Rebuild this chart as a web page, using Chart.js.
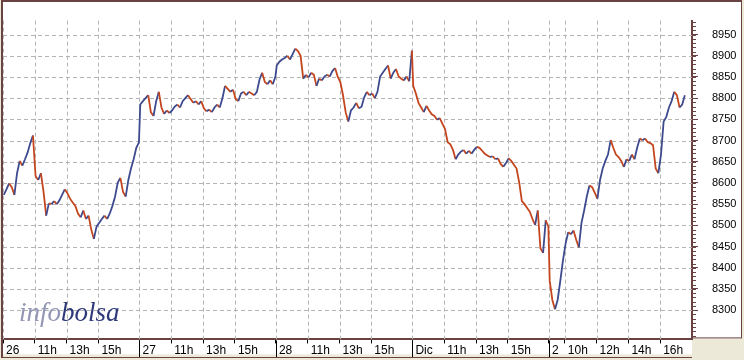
<!DOCTYPE html>
<html>
<head>
<meta charset="utf-8">
<script src="https://cdn.jsdelivr.net/npm/chart.js@4.4.1/dist/chart.umd.min.js"></script>
<style>
  html, body { margin: 0; padding: 0; background: #ece9d8; }
  #wrap { position: relative; width: 744px; height: 360px; }
  #logo { position: absolute; left: 19px; top: 299px; font: italic 27px "Liberation Serif", serif; line-height: 27px; }
  #logo .a { color: #9396b4; }
  #logo .b { color: #2e3a78; }
</style>
</head>
<body>
<div id="wrap">
  <canvas id="ibex" width="744" height="360"></canvas>
  <div id="logo"><span class="a">info</span><span class="b">bolsa</span></div>
</div>
<script>
// session = 9:00 - 17:35, 515 minutes; one close every 10 minutes
const sessionLen = 515;
const stepMin = 10;

const days = ['26', '27', '28', 'Dic', '2'];

const day26 = [8572, 8585, 8599, 8590, 8572, 8623, 8652, 8641, 8656, 8672,
  8694, 8712, 8616, 8607, 8623, 8579, 8523, 8552, 8550, 8557,
  8550, 8559, 8572, 8585, 8576, 8563, 8554, 8546, 8528, 8519,
  8535, 8515, 8523, 8490, 8468, 8497, 8506, 8515, 8523, 8515,
  8528, 8546, 8568, 8601, 8612, 8579, 8568, 8607, 8634, 8656,
  8683, 8696];
const day27 = [8785, 8793, 8800, 8807, 8767, 8758, 8793, 8815, 8778, 8763,
  8771, 8765, 8771, 8780, 8785, 8778, 8793, 8800, 8807, 8798,
  8789, 8793, 8785, 8793, 8776, 8769, 8773, 8767, 8778, 8785,
  8778, 8800, 8829, 8822, 8815, 8820, 8798, 8793, 8811, 8815,
  8807, 8815, 8811, 8807, 8815, 8844, 8860, 8838, 8833, 8842,
  8833, 8851];
const day28 = [8877, 8886, 8891, 8895, 8900, 8891, 8904, 8917, 8911, 8900,
  8846, 8855, 8849, 8860, 8855, 8829, 8846, 8842, 8851, 8855,
  8851, 8864, 8871, 8851, 8838, 8807, 8767, 8745, 8771, 8778,
  8789, 8776, 8780, 8802, 8815, 8807, 8811, 8800, 8815, 8851,
  8860, 8869, 8877, 8846, 8860, 8869, 8851, 8846, 8842, 8851,
  8840, 8912];
const dic1 = [8829, 8811, 8789, 8778, 8767, 8782, 8771, 8762, 8758, 8749,
  8753, 8740, 8727, 8696, 8691, 8678, 8656, 8667, 8674, 8678,
  8669, 8676, 8669, 8678, 8685, 8683, 8676, 8669, 8665, 8661,
  8663, 8656, 8658, 8645, 8638, 8647, 8658, 8652, 8643, 8634,
  8601, 8557, 8550, 8541, 8532, 8515, 8501, 8535, 8446, 8435,
  8512, 8497];
const dic2 = [8369, 8324, 8302, 8324, 8369, 8417, 8457, 8484, 8479, 8488,
  8466, 8448, 8506, 8535, 8568, 8594, 8590, 8577, 8563, 8607,
  8634, 8652, 8667, 8701, 8683, 8667, 8661, 8652, 8638, 8656,
  8652, 8667, 8656, 8683, 8705, 8701, 8705, 8696, 8694, 8689,
  8634, 8623, 8667, 8745, 8756, 8778, 8793, 8815, 8807, 8778,
  8785, 8807];

// x ticks (minutes from first open) and their labels
const xTickVals = [0, 120, 240, 360, 515, 635, 755, 875, 1030, 1150, 1270, 1390,
  1545, 1665, 1785, 1905, 2060, 2120, 2240, 2360, 2480];
const xTickLabels = ['26', '11h', '13h', '15h', '27', '11h', '13h', '15h', '28', '11h', '13h', '15h',
  'Dic', '11h', '13h', '15h', '2', '10h', '12h', '14h', '16h'];
const yTickVals = [8300, 8350, 8400, 8450, 8500, 8550, 8600, 8650, 8700, 8750, 8800, 8850, 8900, 8950];

const UP = '#3d4a8e';
const DOWN = '#c4461f';
const FRAME = '#6b4242';
const GRID = '#b4b4b4';

const points = [];
[day26, day27, day28, dic1, dic2].forEach(function (arr, d) {
  arr.forEach(function (v, k) {
    points.push({ x: d * sessionLen + 3 + k * stepMin, y: v });
  });
});

const framePlugin = {
  id: 'frame',
  beforeDraw(chart) {
    const ctx = chart.ctx;
    const a = chart.chartArea;
    ctx.save();
    ctx.fillStyle = '#ece9d8';
    ctx.fillRect(0, 0, chart.width, chart.height);
    ctx.fillStyle = '#ffffff';
    ctx.fillRect(2, 1, 739, a.bottom - 2);
    ctx.fillRect(2, a.bottom - 2, a.right - 2, 17);
    ctx.restore();
  },
  beforeDatasetsDraw(chart) {
    // dashed grid, one line per tick
    const ctx = chart.ctx;
    const a = chart.chartArea;
    const xs = chart.scales.x;
    const ys = chart.scales.y;
    ctx.save();
    ctx.strokeStyle = GRID;
    ctx.lineWidth = 1;
    ctx.setLineDash([4, 3]);
    ctx.beginPath();
    xs.ticks.forEach(function (t) {
      const px = Math.round(xs.getPixelForValue(t.value)) + 0.5;
      ctx.moveTo(px, a.top); ctx.lineTo(px, a.bottom);
    });
    ys.ticks.forEach(function (t) {
      const py = Math.round(ys.getPixelForValue(t.value)) + 0.5;
      ctx.moveTo(a.left, py); ctx.lineTo(a.right, py);
    });
    ctx.stroke();
    ctx.restore();
  },
  afterDraw(chart) {
    const ctx = chart.ctx;
    const a = chart.chartArea;
    const xs = chart.scales.x;
    const ys = chart.scales.y;
    ctx.save();
    ctx.strokeStyle = FRAME;
    ctx.lineWidth = 2;
    ctx.beginPath();
    ctx.moveTo(1, 1); ctx.lineTo(742, 1);
    ctx.moveTo(2, 1); ctx.lineTo(2, 358);
    ctx.stroke();
    ctx.lineWidth = 1;
    ctx.beginPath();
    ctx.moveTo(741.5, 1); ctx.lineTo(741.5, a.bottom - 1.5);
    ctx.moveTo(a.right, a.bottom - 1.5); ctx.lineTo(742, a.bottom - 1.5);
    ctx.moveTo(2, 357.5); ctx.lineTo(a.right, 357.5);
    ctx.stroke();
    // day separators in the label band
    ctx.strokeStyle = '#000';
    ctx.beginPath();
    for (let d = 1; d < days.length; d++) {
      const px = Math.round(xs.getPixelForValue(d * sessionLen)) + 0.5;
      ctx.moveTo(px, a.bottom + 1); ctx.lineTo(px, 357);
    }
    ctx.stroke();
    // minor ticks on the price axis
    ctx.strokeStyle = FRAME;
    ctx.beginPath();
    for (let v = 8240; v <= 8980; v += 10) {
      const py = Math.round(ys.getPixelForValue(v)) + 0.5;
      ctx.moveTo(a.right + 1, py); ctx.lineTo(a.right + 4, py);
    }
    ctx.stroke();
    ctx.restore();
  }
};

new Chart(document.getElementById('ibex').getContext('2d'), {
  type: 'line',
  data: {
    datasets: [{
      data: points,
      borderWidth: 1.8,
      pointRadius: 0,
      tension: 0,
      borderColor: DOWN,
      segment: {
        borderColor: function (c) { return c.p1.parsed.y >= c.p0.parsed.y ? UP : DOWN; }
      }
    }]
  },
  options: {
    responsive: false,
    animation: false,
    devicePixelRatio: 1,
    layout: { padding: { left: 3, top: 2, right: 0, bottom: 0 } },
    plugins: { legend: { display: false }, tooltip: { enabled: false } },
    scales: {
      x: {
        type: 'linear',
        min: 0,
        max: 2600,
        afterBuildTicks: function (s) { s.ticks = xTickVals.map(function (v) { return { value: v }; }); },
        afterFit: function (s) { s.height = 18; },
        grid: { drawOnChartArea: false, tickLength: 4, tickColor: '#000' },
        border: { color: FRAME, width: 2 },
        ticks: {
          autoSkip: false,
          maxRotation: 0,
          align: 'start',
          labelOffset: 3,
          padding: 0,
          color: '#000',
          font: { family: 'Liberation Sans', size: 12 },
          callback: function (v, i) { return xTickLabels[i]; }
        }
      },
      y: {
        position: 'right',
        min: 8231,
        max: 8983,
        afterBuildTicks: function (s) { s.ticks = yTickVals.map(function (v) { return { value: v }; }); },
        afterFit: function (s) { s.width = 52; },
        grid: { drawOnChartArea: false, tickLength: 6, tickColor: FRAME },
        border: { color: FRAME, width: 2 },
        ticks: {
          padding: 14,
          color: '#000',
          font: { family: 'Liberation Sans', size: 11 },
          callback: function (v) { return String(v); }
        }
      }
    }
  },
  plugins: [framePlugin]
});
</script>
</body>
</html>
